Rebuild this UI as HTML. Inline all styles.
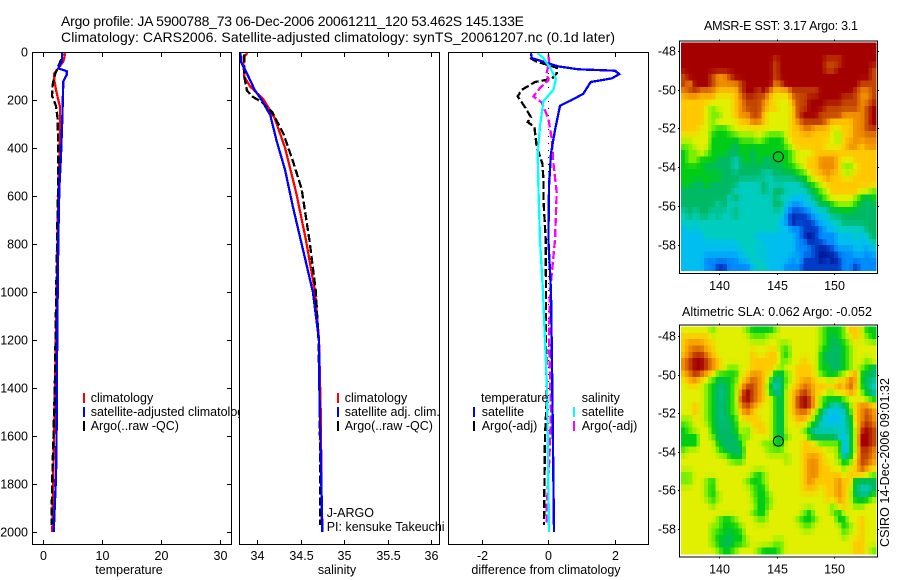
<!DOCTYPE html>
<html>
<head>
<meta charset="utf-8">
<title>Argo profile</title>
<style>
html,body{margin:0;padding:0;background:#fff;}
svg{display:block;}
text{font-family:"Liberation Sans",sans-serif;fill:#000;font-size:12.5px;}
</style>
</head>
<body>
<svg id="fig" xmlns="http://www.w3.org/2000/svg" width="900" height="580" viewBox="0 0 900 580">
<rect x="0" y="0" width="900" height="580" fill="#fff"/>
<text x="61" y="26" style="font-size:14px" textLength="463">Argo profile: JA 5900788_73 06-Dec-2006 20061211_120 53.462S 145.133E</text>
<text x="61" y="42" style="font-size:14px" textLength="554">Climatology: CARS2006. Satellite-adjusted climatology: synTS_20061207.nc (0.1d later)</text>
<g id="layer"></g>
<text x="704" y="30" textLength="154">AMSR-E SST: 3.17 Argo: 3.1</text>
<text x="682" y="316" textLength="190">Altimetric SLA: 0.062 Argo: -0.052</text>
<text transform="translate(889,547) rotate(-90)" textLength="169">CSIRO 14-Dec-2006 09:01:32</text>
</svg>
<script>
// ---------- shared axis values ----------
const depthTicks = [0,200,400,600,800,1000,1200,1400,1600,1800,2000];
const tempTicks = [0,10,20,30];
const salTicks = [34,34.5,35,35.5,36];
const salTickLabels = ["34","34.5","35","35.5","36"];
const diffTicks = [-2,0,2];
const diffTickLabels = ["-2","0","2"];
const lonTicks = [140,145,150];
const latTicks = [-48,-50,-52,-54,-56,-58];
const latTickLabels = ["-48","-50","-52","-54","-56","-58"];
const argoPosition = [145.133,-53.462];

// ---------- temperature panel ----------
const tClimDepth = [5,40,68,89,117,158,200,228,319,422,600,700,1000,1400,1700,2000];
const tClimVal = [3.75,3.4,2.55,1.88,1.88,2.16,2.56,2.84,2.84,2.75,2.55,2.45,2.3,2.0,1.75,1.53];
const tSatDepth = [0,40,68,80,95,122,278,430,570,780,1100,1400,1547,1770,2000];
const tSatVal = [3.24,3.15,2.55,3.98,3.98,3.41,3.24,3.02,2.73,2.56,2.4,2.3,2.28,2.16,1.77];
const tArgoDepth = [30,58,94,135,182,225,280,420,520,640,1000,1400,1800,1970];
const tArgoVal = [3.1,2.55,2.0,1.6,1.48,2.16,2.45,2.55,2.55,2.45,2.2,1.95,1.5,1.42];

// ---------- salinity panel ----------
const sClimDepth = [5,20,40,103,145,197,276,400,590,783,1000,1200,1500,2000];
const sClimVal = [33.89,33.84,33.84,33.85,33.92,34.07,34.2,34.32,34.45,34.56,34.665,34.71,34.73,34.745];
const sSatDepth = [0,20,40,89,158,200,263,367,492,645,783,1000,1200,1400,1500,2000];
const sSatVal = [33.8,33.81,33.81,33.88,33.97,34.05,34.15,34.22,34.32,34.41,34.5,34.64,34.71,34.715,34.72,34.75];
const sArgoDepth = [10,103,160,185,208,250,340,460,570,783,1000,1200,1500,1970];
const sArgoVal = [33.85,33.85,33.88,33.94,34.05,34.17,34.3,34.415,34.51,34.6,34.675,34.705,34.72,34.725];

// ---------- difference panel ----------
const dBlueDepth = [5,25,43,60,72,78,92,110,125,174,200,224,325,422,560,783,1000,1400,2000];
const dBlueVal = [-0.52,-0.5,-0.1,0.3,0.9,2.0,2.13,1.9,1.27,1.05,0.7,0.35,0.2,0.08,0.02,0,0.08,0.12,0.17];
const dCyanDepth = [5,25,65,112,158,205,310,422,560,783,1000,1200,1400,2000];
const dCyanVal = [-0.32,-0.15,0.05,0.23,0.15,-0.15,-0.25,-0.32,-0.3,-0.25,-0.16,-0.1,-0.04,0.02];
const dMagentaDepth = [10,40,89,117,150,185,210,278,360,460,585,783,1000,1200,1500,1700,1900,1970];
const dMagentaVal = [0,0.02,-0.05,0,-0.25,-0.45,-0.2,0,0.1,0.15,0.25,0.2,0.05,0.02,0.08,0.03,-0.05,-0.06];
const dBlackDepth = [25,40,65,89,112,125,158,185,230,272,292,312,395,465,530,610,783,1000,1200,1450,1600,1970];
const dBlackVal = [-0.55,-0.35,0.25,0.25,0.1,-0.4,-0.8,-0.92,-0.7,-0.52,-0.62,-0.42,-0.35,-0.18,-0.15,-0.15,-0.08,-0.07,-0.07,-0.05,-0.1,-0.13];
const zeroLineDepth = [0,2000];
const zeroLineVal = [0,0];

// ---------- maps: colour-scale level per grid node (0 coldest/lowest ... 12 warmest/highest) ----------
const sstLevels = [
[12,12,12,12,12,12,12,12,12,12,12,12,12,12,12,12,12,12,12,12,12,12,12,12,12,12,12,12,12,12,12,12,12,12],
[12,12,12,12,12,12,12,12,12,12,12,12,12,12,12,12,12,12,12,12,12,12,12,12,12,12,12,12,12,12,12,12,12,12],
[12,12,12,12,12,12,12,12,12,12,12,12,12,12,12,12,11,12,12,12,12,12,12,12,12,11,11,11,12,12,12,12,12,12],
[12,12,12,12,12,12,12,12,12,12,12,12,12,12,12,12,11,12,12,12,12,12,12,12,12,11,11,12,12,12,12,12,12,11],
[11,12,12,12,12,11,10,10,11,12,12,12,12,12,12,12,11,12,12,12,12,12,12,12,12,12,12,12,12,12,12,12,12,11],
[11,10,12,12,12,11,10,10,10,10,11,12,12,12,12,12,10,11,12,12,12,12,12,12,12,12,12,12,12,12,12,11,11,11],
[10,11,11,10,10,10,9,9,9,9,11,12,12,11,12,10,9,9,9,11,11,11,11,11,12,12,12,12,12,12,11,10,10,11],
[9,9,9,9,9,9,8,8,8,9,10,11,11,11,10,9,8,8,8,10,11,11,12,12,12,12,12,12,11,11,11,10,10,11],
[9,9,9,9,8,7,8,8,8,9,10,11,11,11,10,9,9,8,8,9,11,11,12,12,12,11,11,11,11,11,11,10,11,12],
[9,9,9,9,8,7,7,8,8,9,10,10,11,11,9,8,8,8,8,9,11,12,12,12,11,11,11,11,10,10,10,10,11,12],
[9,9,9,9,8,7,8,8,8,8,9,9,10,10,9,8,8,8,8,9,10,11,11,11,11,10,9,9,9,9,10,10,11,12],
[9,9,9,8,8,7,6,6,7,8,8,8,8,8,8,8,8,8,8,9,9,10,10,9,9,9,8,8,9,9,10,10,11,11],
[8,8,8,8,8,6,6,6,6,6,7,7,7,8,7,6,6,6,8,9,9,9,9,9,9,9,8,7,9,9,10,10,10,10],
[7,7,8,8,8,6,6,6,6,5,6,6,6,6,6,6,6,6,7,8,9,9,9,9,9,8,8,8,9,10,10,9,10,10],
[6,7,7,8,7,6,6,6,5,5,6,6,5,6,6,6,6,6,6,7,8,8,8,9,9,9,9,9,9,9,9,9,9,9],
[6,7,7,6,6,6,5,5,5,4,5,6,5,6,5,5,6,6,6,7,8,8,9,9,10,10,10,9,8,8,9,9,9,9],
[6,6,6,6,5,5,5,5,5,4,5,5,5,5,5,5,5,5,6,6,7,8,9,9,10,10,10,9,7,7,8,9,9,9],
[6,6,6,6,6,6,6,5,5,5,5,5,5,5,4,4,5,5,5,5,6,6,8,9,9,10,9,9,8,8,9,9,9,9],
[6,6,5,5,6,5,5,5,5,5,4,4,4,4,5,4,4,4,4,4,4,5,6,7,8,9,9,9,9,9,9,9,9,9],
[5,5,5,5,5,5,5,5,5,4,4,4,4,4,5,4,5,5,4,4,4,4,5,6,7,8,9,9,9,9,9,8,8,7],
[5,5,5,5,5,5,5,5,4,5,4,4,4,4,4,4,5,4,4,3,3,3,4,5,6,7,8,8,8,8,7,6,5,6],
[5,5,5,5,5,5,4,5,4,4,4,4,4,4,4,4,5,5,3,2,2,3,3,4,5,5,6,7,7,7,6,5,5,5],
[4,5,4,5,5,4,5,4,4,5,4,4,4,4,4,4,4,4,2,1,1,1,2,3,3,4,5,5,5,5,5,5,5,5],
[4,4,4,4,4,4,4,4,4,4,4,4,4,4,4,4,4,3,2,0,1,1,1,2,3,3,4,4,5,5,5,5,5,5],
[3,4,3,4,4,4,4,4,4,4,4,4,4,4,4,4,4,3,3,2,2,1,1,1,2,3,3,4,4,4,4,4,5,5],
[3,3,3,3,4,4,4,4,4,4,4,4,4,3,3,3,3,3,3,3,2,1,0,1,2,2,2,3,3,3,4,3,4,5],
[3,3,3,3,3,3,3,3,3,3,4,4,4,4,3,3,3,3,3,3,2,2,1,1,1,2,2,3,3,3,3,3,3,4],
[3,3,3,3,3,3,3,3,3,3,3,4,4,3,4,3,3,3,3,3,2,2,2,1,0,0,1,2,2,2,3,3,2,3],
[3,3,3,3,2,2,2,2,2,2,3,3,4,4,3,3,3,3,3,2,3,1,1,1,0,1,0,1,2,2,2,2,2,2],
[3,3,3,3,2,2,1,1,2,2,2,2,3,4,4,3,3,3,2,2,2,1,1,1,1,1,1,1,2,2,1,2,2,2]
];
const slaLevels = [
[8,8,8,8,8,7,8,8,8,8,8,7,6,6,6,6,7,8,8,8,8,8,8,8,7,6,6,6,7,9,9,8,6,6],
[9,9,9,9,9,8,8,8,8,8,8,8,7,7,7,8,8,8,8,8,8,8,8,8,7,6,5,6,7,8,9,8,7,6],
[9,10,10,10,9,9,8,8,8,8,8,8,8,8,8,8,8,7,7,8,8,8,8,8,7,6,5,5,6,7,8,8,8,8],
[9,10,11,11,10,9,8,8,8,8,8,8,9,8,8,9,9,7,6,8,8,8,8,8,6,5,5,5,6,7,8,8,8,8],
[10,11,12,12,11,10,9,8,8,8,8,8,9,9,9,9,9,7,7,8,8,9,8,8,6,5,5,5,6,7,8,8,7,8],
[10,11,12,12,11,10,9,8,7,7,8,8,9,9,9,9,8,7,8,8,9,9,9,8,6,6,5,5,6,7,8,7,6,5],
[9,10,11,10,9,8,6,6,6,6,8,9,10,10,9,8,5,5,7,8,9,9,9,8,7,6,6,7,8,9,10,6,5,5],
[8,9,9,8,7,6,5,5,6,7,9,10,11,10,9,6,4,5,7,8,9,10,10,9,9,9,9,10,9,11,9,6,5,4],
[8,8,8,8,7,6,4.7,4.7,6,7,10,12,11,10,9,6,4,5,8,9,10,11,10,9,9,8,8,9,9,10,9,7,5,4],
[8,8,8,8,7,6,4.7,4.7,6,7,11,12,11,10,9,8,6,5,8,9,11,12,11,9,7,6,6,6,7,8,8,8,7,6],
[8,8,9,8,7,6,4.7,5,6,7,10,11,10,9,8,8,6,5,8,9,11,12,11,9,7,5,4,4,5,7,9,10,10,9],
[8,8,9,8,7,6,4.7,4.7,6,7,9,10,9,8,8,8,6,5,8,9,10,10,9,7,5,3,3,3,4,6,9,10,11,10],
[7,7,8,8,7,6,5,4.7,5,6,8,8,9,9,8,8,6,5,8,8,9,9,8,6,4,3,3,3,4,5,9,10,11,10],
[6,7,8,8,8,6,5,5,5,6,8,7,8,9,9,8,6,5,8,8,8,7,5,4,4,4,4,4,4,5,8,11,12,11],
[6,6,6,8,8,7,5,5,5,5,7,7,8,8,8,8,6,5,7,8,8,8,6,5,5,5,5,4,3,5,8,12,12,11],
[6,6,6,8,8,8,6,5,5,5,6,8,8,8,7,7,6,6,8,8,8,9,9,8,7,7,7,7,3,5,8,12,12,11],
[7,8,8,8,8,8,7,6,5,5,5,8,8,8,8,7,7,7,8,8,8,9,9,9,9,8,8,7,2,5,8,11,11,10],
[8,8,8,8,8,8,8,8,7,6,6,8,8,8,8,8,8,8,7,8,8,9,10,10,9,8,8,7,5,6,9,11,11,10],
[8,8,8,8,8,8,8,8,8,8,8,8,8,8,8,8,8,8,8,8,8,9,10,10,9,9,8,8,7,8,9,11,10,9],
[7,7,8,8,8,8,8,8,8,8,8,8,7,6,7,8,8,8,8,8,8,9,10,10,9,9,9,9,8,9,9,9,8,7],
[7,7,8,8,7,6,8,8,8,8,8,7,6,6,7,8,8,8,8,8,8,9,10,9,9,9,9,10,9,9,5,5,5,5],
[8,8,8,8,7,6,8,8,8,8,8,8,7,6,6,8,8,8,8,8,8,9,9,9,8,9,9,10,9,8,5,4,4,5],
[8,8,8,8,7,6,7,8,8,8,8,8,7,6,6,7,8,8,8,8,8,8,8,8,8,9,9,10,9,8,5,5,5,7],
[8,8,8,8,8,7,8,8,8,8,8,8,8,6,6,7,8,8,8,8,8,8,8,8,8,8,7,9,9,8,7,7,8,8],
[8,8,8,8,8,8,8,8,8,8,8,8,7,6,6,8,8,8,8,8,8,7,6,8,8,8,7,6,8,8,8,8,8,8],
[8,8,8,8,8,8,7,6,6,7,8,8,8,7,7,8,8,8,8,8,7,6,6,7,8,8,8,6,6,8,8,9,8,8],
[8,8,8,8,8,7,7,6,6,6,7,8,8,8,8,8,8,8,8,8,8,7,7,8,8,8,8,8,6,7,8,9,8,8],
[8,8,8,8,8,7,6,6,5,6,6,8,8,8,8,8,8,8,8,8,8,8,8,8,8,8,8,8,7,8,8,9,8,8],
[8,8,8,8,8,7,6,5,5,6,6,7,8,8,8,8,7,7,8,8,8,8,8,8,8,8,8,8,8,8,9,9,8,8],
[8,8,8,8,8,8,7,6,6,7,8,8,8,7,6,6,6,7,8,8,8,8,8,8,8,8,8,8,8,8,9,9,8,7]
];
const levelRed = [0,0,0,0,0,0,0,120,225,255,240,195,165];
const levelGreen = [20,60,140,190,205,185,205,240,240,200,140,70,0];
const levelBlue = [143,200,255,240,190,100,20,0,0,0,0,0,0];

// ---------- drawing ----------
const NS = "http://www.w3.org/2000/svg";
const layer = document.getElementById("layer");
function node(tag, attrs, parent, txt){
  const el = document.createElementNS(NS, tag);
  for (const k in attrs) el.setAttribute(k, attrs[k]);
  if (txt !== undefined) el.textContent = txt;
  (parent || layer).appendChild(el);
  return el;
}
function named(el, name, inter){
  
  
  return el;
}
function linear(d0, d1, p0, p1){ return v => p0 + (v - d0) * (p1 - p0) / (d1 - d0); }

const yDepth = linear(0, 2000, 52, 532);
const panelTop = 52, panelBottom = 545;
const xTemp = linear(0, 30, 43.3, 219.5);
const xSal = linear(34, 36, 257.3, 431);
const xDiff = linear(-2, 2, 481.7, 615);

function panelBack(prefix, left, right){
  named(node("rect",{x:left,y:panelTop,width:right-left,height:panelBottom-panelTop,fill:"#fff"}), prefix+"-plot-area");
}
function panelAxes(prefix, left, right, ticks, labels, scale, title, titleX){
  const g = named(node("g",{"shape-rendering":"crispEdges"}), prefix+"-axes");
  ticks.forEach((t,i)=>{
    const x = Math.round(scale(t))+0.5;
    named(node("path",{d:`M${x} ${panelTop}V${panelTop+5}M${x} ${panelBottom}V${panelBottom-5}`,stroke:"#000",fill:"none"},g), prefix+"-x-tick");
    named(node("text",{x:x,y:560,"text-anchor":"middle"},g,labels[i]), prefix+"-x-tick-label");
  });
  named(node("rect",{x:left+0.5,y:panelTop+0.5,width:right-left-1,height:panelBottom-panelTop-1,fill:"none",stroke:"#000"},g), prefix+"-frame");
  named(node("text",{x:titleX,y:574,"text-anchor":"middle"},g,title), prefix+"-x-axis-title");
}
function profile(name, depths, vals, scale, colour, width, dash){
  const pts = depths.map((d,i)=>scale(vals[i]).toFixed(1)+","+yDepth(d).toFixed(1)).join(" ");
  const attrs = {points:pts,fill:"none",stroke:colour,"stroke-width":width,"stroke-linejoin":"miter","shape-rendering":"crispEdges"};
  if (dash) attrs["stroke-dasharray"] = dash;
  named(node("polyline",attrs), name);
}
function legendRow(name, text, sx, tx, baseline, colour){
  if (colour) {
    const sw = node("rect",{x:sx-1,y:baseline-9,width:2,height:10,fill:colour});
    named(sw, name+"-swatch");
  }
  named(node("text",{x:tx,y:baseline},layer,text), name+"-label");
}

// Temperature panel
panelBack("temperature",32,232);
profile("temperature-climatology-line", tClimDepth, tClimVal, xTemp, "#f00", 2.3);
profile("temperature-argo-line", tArgoDepth, tArgoVal, xTemp, "#000", 2.3, "8 3");
profile("temperature-satellite-line", tSatDepth, tSatVal, xTemp, "#00f", 2.3);
panelAxes("temperature",32,232,tempTicks,tempTicks.map(String),xTemp,"temperature",129);
depthTicks.forEach(t=>{
  const y = Math.round(yDepth(t))+0.5;
  named(node("path",{d:`M32 ${y}H37M232 ${y}H227`,stroke:"#000",fill:"none","shape-rendering":"crispEdges"}), "depth-tick");
  named(node("text",{x:28,y:y+4,"text-anchor":"end"},layer,String(t)), "depth-tick-label");
});
legendRow("temperature-legend-climatology","climatology",84,90.7,402,"#f00");
legendRow("temperature-legend-satellite","satellite-adjusted climatology",84,90.7,416,"#00f");
legendRow("temperature-legend-argo","Argo(..raw -QC)",84,90.7,430,"#000");

// Salinity panel
panelBack("salinity",239,440);
profile("salinity-climatology-line", sClimDepth, sClimVal, xSal, "#f00", 2.3);
profile("salinity-argo-line", sArgoDepth, sArgoVal, xSal, "#000", 2.3, "8 3");
profile("salinity-satellite-line", sSatDepth, sSatVal, xSal, "#00f", 2.3);
panelAxes("salinity",239,440,salTicks,salTickLabels,xSal,"salinity",337);
legendRow("salinity-legend-climatology","climatology",338,344.7,402,"#f00");
legendRow("salinity-legend-satellite","satellite adj. clim.",338,344.7,416,"#00f");
legendRow("salinity-legend-argo","Argo(..raw -QC)",338,344.7,430,"#000");
named(node("text",{x:326.7,y:517},layer,"J-ARGO"), "float-program-label");
named(node("text",{x:326.7,y:531},layer,"PI: kensuke Takeuchi"), "principal-investigator-label");

// Difference panel
panelBack("difference",448,649);
profile("difference-zero-line", zeroLineDepth, zeroLineVal, xDiff, "#000", 1, "1 6");
profile("difference-temperature-argo-line", dBlackDepth, dBlackVal, xDiff, "#000", 2.3, "8 3");
profile("difference-salinity-argo-line", dMagentaDepth, dMagentaVal, xDiff, "#f0f", 2.3, "8 3");
profile("difference-temperature-satellite-line", dBlueDepth, dBlueVal, xDiff, "#00f", 2.3);
profile("difference-salinity-satellite-line", dCyanDepth, dCyanVal, xDiff, "#0ff", 2.3);
panelAxes("difference",448,649,diffTicks,diffTickLabels,xDiff,"difference from climatology",546);
legendRow("difference-legend-temperature-heading","temperature",0,481,402,null);
legendRow("difference-legend-temperature-satellite","satellite",474,481.7,416,"#00f");
legendRow("difference-legend-temperature-argo","Argo(-adj)",474,481.7,430,"#000");
legendRow("difference-legend-salinity-heading","salinity",0,581.7,402,null);
legendRow("difference-legend-salinity-satellite","satellite",574,581.7,416,"#0ff");
legendRow("difference-legend-salinity-argo","Argo(-adj)",574,581.7,430,"#f0f");

// Maps: the 1/3-degree image grid is sampled bilinearly from the level arrays
function sampleLevel(levels, u, v){
  const rows = levels.length, cols = levels[0].length;
  const cu = Math.max(0, Math.min(cols-1, u)), cv = Math.max(0, Math.min(rows-1, v));
  const c0 = Math.floor(cu), r0 = Math.floor(cv);
  const c1 = Math.min(cols-1, c0+1), r1 = Math.min(rows-1, r0+1);
  const fu = cu-c0, fv = cv-r0;
  return (levels[r0][c0]*(1-fu)+levels[r0][c1]*fu)*(1-fv) + (levels[r1][c0]*(1-fu)+levels[r1][c1]*fu)*fv;
}
function levelColour(level){
  const i = Math.max(0, Math.min(levelRed.length-2, Math.floor(level)));
  const f = level-i;
  const mix = a => Math.round(a[i]*(1-f)+a[i+1]*f);
  return `rgb(${mix(levelRed)},${mix(levelGreen)},${mix(levelBlue)})`;
}
function drawMap(prefix, levels, top, bottom, yLat){
  const left = 680, right = 877;
  const imgL = 681, imgR = 876, imgT = top+1, imgB = bottom-2.5;
  const g = named(node("g",{"shape-rendering":"crispEdges"}), prefix+"-map");
  const rows = levels.length, cols = levels[0].length;
  const gridCols = 51, gridRows = 36;
  const xCol = linear(0, gridCols, imgL, imgR);
  const yRow = linear(0, gridRows, imgT, imgB);
  for (let r=0; r<gridRows; r++) for (let c=0; c<gridCols; c++) {
    const x0 = xCol(c), y0 = yRow(r);
    const val = sampleLevel(levels, (c+0.5)/gridCols*cols-0.5, (r+0.5)/gridRows*rows-0.5);
    const cell = node("rect",{x:x0.toFixed(2),y:y0.toFixed(2),width:(xCol(c+1)-x0+0.3).toFixed(2),height:(yRow(r+1)-y0+0.3).toFixed(2),fill:levelColour(val)},g);
    
    
  }
  const xLon = linear(140, 150, 719.3, 834.3);
  lonTicks.forEach(t=>{
    const x = Math.round(xLon(t))+0.5;
    named(node("path",{d:`M${x} ${top-2}V${top}M${x} ${bottom}V${bottom+2}`,stroke:"#000",fill:"none"},g), prefix+"-lon-tick");
    named(node("text",{x:x,y:bottom+17,"text-anchor":"middle"},g,String(t)), prefix+"-lon-tick-label");
  });
  latTicks.forEach((t,i)=>{
    const y = Math.round(yLat(t))+0.5;
    named(node("path",{d:`M${left-2} ${y}H${left}M${right} ${y}H${right+2}`,stroke:"#000",fill:"none"},g), prefix+"-lat-tick");
    named(node("text",{x:left-4,y:y+4,"text-anchor":"end"},g,latTickLabels[i]), prefix+"-lat-tick-label");
  });
  named(node("rect",{x:left-0.5,y:top-0.5,width:right-left+1,height:bottom-top+1,fill:"none",stroke:"#000"},g), prefix+"-frame");
  named(node("circle",{cx:xLon(argoPosition[0]),cy:yLat(argoPosition[1]),r:5,fill:"none",stroke:"#000","shape-rendering":"auto"},g), prefix+"-argo-position-marker");
}
drawMap("sst", sstLevels, 41.5, 273, linear(-48,-58,51,244.5));
drawMap("sla", slaLevels, 325.5, 556.5, linear(-48,-58,336,528.5));
</script>
</body>
</html>
